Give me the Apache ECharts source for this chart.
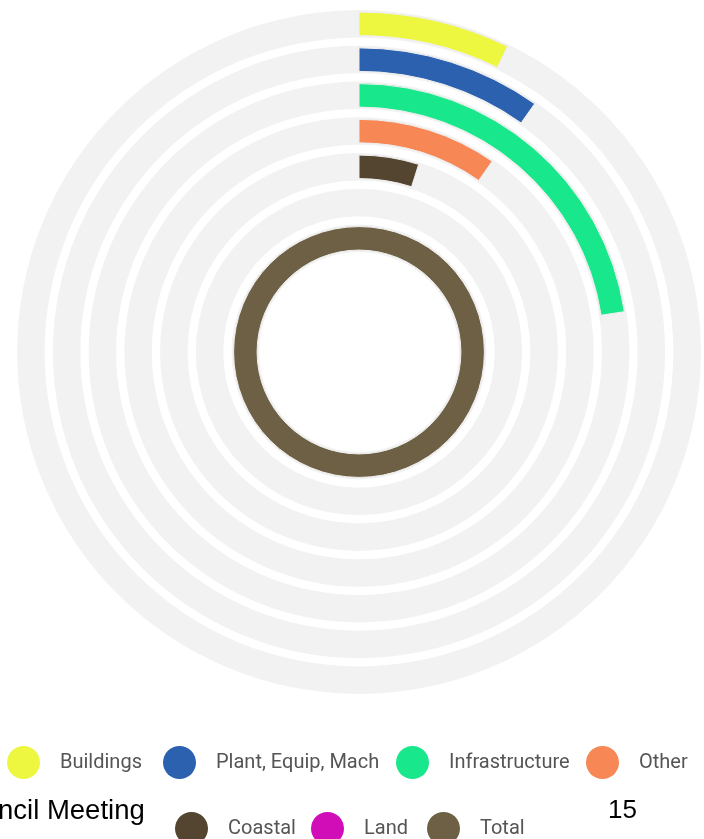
<!DOCTYPE html>
<html>
<head>
<meta charset="utf-8">
<script src="https://cdn.jsdelivr.net/npm/echarts@6/dist/echarts.min.js"></script>
<style>
  html, body { margin: 0; padding: 0; background: #ffffff; }
  #chart { width: 704px; height: 839px; }
</style>
</head>
<body>
<div id="chart"></div>
<script>
// ---- data ----
const categories = ['Buildings', 'Plant, Equip, Mach', 'Infrastructure', 'Other', 'Coastal', 'Land', 'Total'];
const values = [7.2, 9.8, 22.6, 9.7, 4.9, 0, 100];   // share of the full circle (%)
const colors = ['#edf73f', '#2c61b0', '#18e78b', '#f78755', '#544530', '#d10db8', '#6d6045'];
const maxValue = 100;
const footerLeft = 'ncil Meeting';
const footerRight = '15';

// ---- layout ----
const center = [359, 352];
const radius = [95.8, 346];
const legendPos = [
  [7, 746], [163, 746], [396, 746], [586, 746],
  [175, 812], [311, 812], [427, 812]
];

const chart = echarts.init(document.getElementById('chart'), null, { renderer: 'canvas' });

const hiddenAxis = { show: false };

const series = [{
  name: '__track',
  type: 'bar',
  coordinateSystem: 'polar',
  polarIndex: 0,
  data: categories.map(() => maxValue),
  barWidth: 27.5,
  itemStyle: { color: '#f2f2f2' },
  silent: true,
  z: 1
}];
categories.forEach((name, i) => {
  series.push({
    name: name,
    type: 'bar',
    coordinateSystem: 'polar',
    polarIndex: 1,
    stack: 'all',
    barWidth: 23.5,
    data: categories.map((c, j) => (j === i ? values[i] : '-')),
    itemStyle: { color: colors[i], borderColor: '#efefef', borderWidth: 1 },
    z: 2
  });
});

const legends = categories.map((name, i) => ({
  data: [name],
  left: legendPos[i][0],
  top: legendPos[i][1],
  padding: 0,
  orient: 'horizontal',
  icon: 'circle',
  itemWidth: 33,
  itemHeight: 33,
  itemStyle: { borderWidth: 0 },
  selectedMode: false,
  textStyle: {
    fontFamily: 'Roboto, sans-serif',
    fontSize: 20,
    color: '#555555',
    padding: [0, 0, 0, 15]
  }
}));

chart.setOption({
  animation: false,
  color: colors,
  polar: [
    { center: center, radius: radius },
    { center: center, radius: radius }
  ],
  angleAxis: [
    { polarIndex: 0, type: 'value', min: 0, max: maxValue, startAngle: 90, clockwise: true, axisLine: hiddenAxis, axisTick: hiddenAxis, axisLabel: hiddenAxis, splitLine: hiddenAxis },
    { polarIndex: 1, type: 'value', min: 0, max: maxValue, startAngle: 90, clockwise: true, axisLine: hiddenAxis, axisTick: hiddenAxis, axisLabel: hiddenAxis, splitLine: hiddenAxis }
  ],
  radiusAxis: [
    { polarIndex: 0, type: 'category', data: categories, inverse: true, axisLine: hiddenAxis, axisTick: hiddenAxis, axisLabel: hiddenAxis, splitLine: hiddenAxis },
    { polarIndex: 1, type: 'category', data: categories, inverse: true, axisLine: hiddenAxis, axisTick: hiddenAxis, axisLabel: hiddenAxis, splitLine: hiddenAxis }
  ],
  legend: legends,
  series: series,
  graphic: [
    { type: 'text', left: -2, top: 797, style: { text: footerLeft, fontFamily: "'Liberation Sans', Arial, sans-serif", fontSize: 27.5, fill: '#000000' } },
    { type: 'text', left: 608, top: 798, style: { text: footerRight, fontFamily: "'Liberation Sans', Arial, sans-serif", fontSize: 26, fill: '#000000' } }
  ]
});
</script>
</body>
</html>
